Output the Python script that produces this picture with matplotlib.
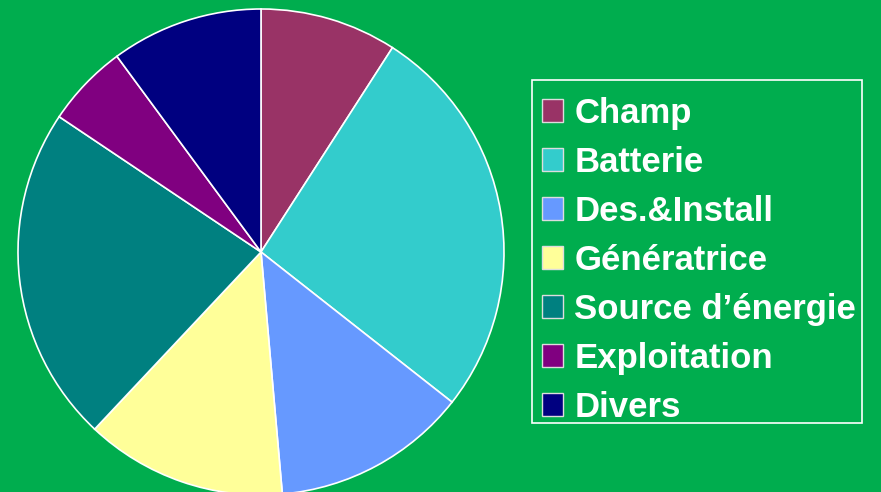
import matplotlib.pyplot as plt
from matplotlib.patches import Patch, Rectangle

# cost breakdown
labels = ['Champ', 'Batterie', 'Des.&Install', 'Génératrice',
          'Source d\u2019énergie', 'Exploitation', 'Divers']
shares = [9.1, 26.5, 13.0, 13.4, 22.4, 5.5, 10.1]
colors = ['#993366', '#33CCCC', '#6699FF', '#FFFF99',
          '#008080', '#800080', '#000080']

bg = '#00AD4E'

W, H = 881, 492
fig = plt.figure(figsize=(W / 100, H / 100), dpi=100, facecolor=bg)

# pie centred at (261, 252) px, radius 243 px
cx, cy, r = 261, 252, 243
ax = fig.add_axes([(cx - r) / W, (H - cy - r) / H, 2 * r / W, 2 * r / H])
ax.set_facecolor('none')
wedges, _ = ax.pie(shares, colors=colors, startangle=90, counterclock=False,
                   radius=1.0, wedgeprops=dict(edgecolor='white', linewidth=1.2))
ax.set_xlim(-1, 1)
ax.set_ylim(-1, 1)
ax.axis('off')

handles = [Patch(facecolor=c, edgecolor='#DDDDDD', linewidth=1.0) for c in colors]
leg = fig.legend(handles, labels, loc='upper left',
                 bbox_to_anchor=(532 / W, 1 - 87 / H),
                 frameon=False,
                 prop=dict(family='Liberation Sans', weight='bold', size=25),
                 labelcolor='white', handlelength=0.62, handleheight=0.62,
                 handletextpad=0.32, labelspacing=0.46, borderpad=0.28,
                 borderaxespad=0)

# legend box
fig.add_artist(Rectangle((532 / W, 1 - 423 / H), 330 / W, 343 / H,
                         transform=fig.transFigure, fill=False,
                         edgecolor='white', linewidth=1.2))

fig.savefig('out.png', dpi=100, facecolor=bg)
